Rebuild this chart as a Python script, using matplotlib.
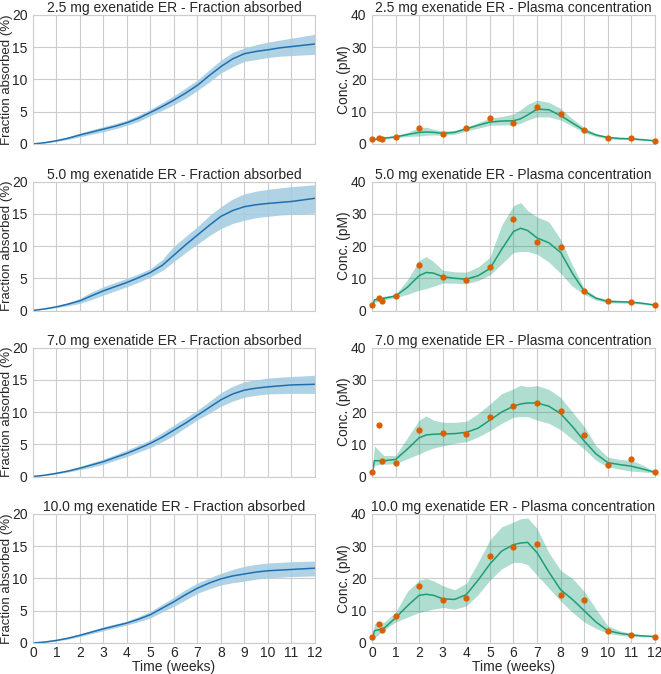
import matplotlib
matplotlib.use("Agg")
import matplotlib.pyplot as plt
import seaborn as sns
import numpy as np

sns.set_style("whitegrid")
plt.rcParams['font.family'] = ['Liberation Sans', 'DejaVu Sans']

doses = ["2.5", "5.0", "7.0", "10.0"]

# fraction absorbed (%), median and band
t_fa = np.arange(0, 12.01, 0.5)
fa_med = {
    "2.5": [0, 0.2, 0.5, 0.9, 1.4, 1.85, 2.3, 2.75, 3.3, 4.0, 4.9, 5.8, 6.8, 7.9, 9.1, 10.6, 12.0, 13.2, 14.0, 14.35, 14.6, 14.9, 15.1, 15.3, 15.5],
    "5.0": [0, 0.25, 0.57, 1.0, 1.5, 2.3, 3.06, 3.7, 4.35, 5.1, 5.9, 7.0, 8.6, 10.2, 11.7, 13.2, 14.6, 15.5, 16.1, 16.4, 16.6, 16.75, 16.9, 17.15, 17.4],
    "7.0": [0, 0.2, 0.5, 0.85, 1.3, 1.8, 2.3, 2.95, 3.6, 4.35, 5.15, 6.1, 7.2, 8.3, 9.5, 10.7, 11.9, 12.8, 13.4, 13.7, 13.9, 14.05, 14.2, 14.25, 14.3],
    "10.0": [0, 0.15, 0.4, 0.75, 1.2, 1.7, 2.2, 2.65, 3.1, 3.7, 4.4, 5.4, 6.4, 7.5, 8.5, 9.3, 9.95, 10.4, 10.7, 11.0, 11.2, 11.3, 11.4, 11.5, 11.6],
}
fa_lo = {
    "2.5": [0, 0.15, 0.4, 0.7, 1.1, 1.5, 1.9, 2.35, 2.9, 3.5, 4.4, 5.2, 6.1, 7.1, 8.3, 9.6, 11.0, 12.0, 12.8, 13.1, 13.4, 13.6, 13.7, 13.8, 13.9],
    "5.0": [0, 0.2, 0.45, 0.75, 1.1, 1.7, 2.4, 3.05, 3.7, 4.4, 5.2, 6.2, 7.6, 9.0, 10.3, 11.6, 12.7, 13.5, 14.0, 14.4, 14.6, 14.8, 14.9, 15.0, 15.1],
    "7.0": [0, 0.15, 0.4, 0.7, 1.05, 1.45, 1.9, 2.5, 3.1, 3.8, 4.5, 5.4, 6.4, 7.6, 8.8, 9.8, 10.9, 11.7, 12.3, 12.6, 12.8, 12.85, 12.9, 12.9, 12.9],
    "10.0": [0, 0.1, 0.3, 0.6, 1.0, 1.45, 1.9, 2.35, 2.8, 3.3, 3.9, 4.8, 5.7, 6.7, 7.7, 8.4, 9.0, 9.35, 9.6, 9.9, 10.1, 10.2, 10.3, 10.35, 10.4],
}
fa_hi = {
    "2.5": [0, 0.25, 0.6, 1.1, 1.7, 2.2, 2.7, 3.15, 3.7, 4.5, 5.4, 6.4, 7.5, 8.7, 9.9, 11.5, 13.0, 14.2, 14.9, 15.4, 15.8, 16.1, 16.4, 16.7, 17.0],
    "5.0": [0, 0.3, 0.7, 1.25, 1.9, 2.9, 3.7, 4.35, 5.0, 5.7, 6.5, 7.9, 10.0, 11.5, 13.0, 14.7, 16.1, 17.3, 18.1, 18.5, 18.8, 19.0, 19.2, 19.35, 19.5],
    "7.0": [0, 0.25, 0.6, 1.0, 1.55, 2.15, 2.7, 3.4, 4.1, 4.9, 5.7, 6.8, 8.0, 9.1, 10.3, 11.6, 13.0, 14.0, 14.7, 15.0, 15.25, 15.4, 15.5, 15.6, 15.7],
    "10.0": [0, 0.2, 0.5, 0.9, 1.4, 1.95, 2.5, 2.95, 3.4, 4.1, 4.9, 6.0, 7.1, 8.3, 9.3, 10.1, 10.8, 11.4, 11.9, 12.2, 12.4, 12.5, 12.6, 12.65, 12.7],
}

# plasma concentration (pM), median and band
t_pc = [0, 0.1, 0.5, 1, 1.5, 2, 2.3, 2.6, 3, 3.5, 4, 4.5, 5, 5.5, 6, 6.3, 6.6, 7, 7.5, 8, 8.5, 9, 9.5, 10, 10.5, 11, 11.5, 12]
pc_med = {
    "2.5": [0.5, 1.4, 1.8, 2.2, 2.9, 3.6, 3.7, 3.6, 3.3, 3.6, 4.7, 5.8, 6.8, 7.1, 7.2, 7.8, 9.0, 10.8, 10.6, 8.8, 6.5, 4.2, 2.8, 2.0, 1.7, 1.6, 1.3, 1.0],
    "5.0": [0.3, 3.3, 3.8, 4.5, 7.2, 10.8, 11.8, 11.6, 10.5, 10.0, 9.7, 10.8, 13.0, 19.0, 24.5, 25.5, 24.8, 22.5, 21.0, 18.0, 11.5, 6.0, 3.8, 2.8, 2.7, 2.6, 2.2, 1.7],
    "7.0": [0.3, 4.9, 4.9, 5.3, 8.5, 12.0, 12.9, 13.1, 13.2, 13.3, 13.7, 15.0, 17.5, 20.0, 21.8, 22.5, 22.8, 22.8, 21.8, 19.5, 15.5, 11.0, 7.0, 4.3, 3.7, 3.2, 2.3, 1.3],
    "10.0": [0.5, 3.8, 4.5, 7.8, 11.5, 14.8, 15.1, 14.8, 13.7, 13.5, 15.0, 19.5, 24.5, 28.5, 30.5, 31.0, 31.2, 28.0, 22.0, 16.5, 13.5, 10.0, 6.5, 3.8, 3.0, 2.5, 2.2, 2.0],
}
pc_lo = {
    "2.5": [0.4, 1.2, 1.5, 1.9, 2.3, 2.5, 2.7, 2.8, 2.7, 3.0, 4.0, 4.9, 5.8, 5.9, 5.9, 6.4, 7.4, 8.4, 8.4, 7.4, 5.5, 3.5, 2.3, 1.6, 1.4, 1.3, 1.1, 0.9],
    "5.0": [0.2, 2.5, 3.3, 4.0, 5.0, 6.3, 6.8, 7.5, 8.5, 8.5, 8.3, 9.3, 11.0, 14.5, 18.0, 18.3, 18.3, 17.5, 15.0, 11.5, 7.5, 5.0, 3.2, 2.4, 2.3, 2.2, 1.9, 1.5],
    "7.0": [0.2, 3.5, 3.8, 4.0, 5.5, 7.0, 8.0, 8.8, 9.5, 10.3, 10.8, 12.3, 14.2, 16.5, 18.4, 18.6, 18.6, 17.5, 16.5, 14.5, 11.5, 8.5, 5.0, 3.0, 2.3, 1.7, 1.4, 1.1],
    "10.0": [0.4, 1.6, 4.0, 6.5, 8.0, 9.5, 10.0, 10.5, 11.0, 10.5, 11.5, 15.0, 19.5, 23.0, 25.0, 25.0, 24.3, 21.0, 17.0, 13.0, 9.5, 6.5, 4.5, 3.0, 2.4, 2.0, 1.9, 1.8],
}
pc_hi = {
    "2.5": [0.6, 1.7, 2.1, 2.6, 3.6, 5.0, 5.2, 4.6, 4.0, 4.2, 5.3, 6.6, 8.0, 8.5, 9.3, 10.6, 12.3, 13.6, 12.9, 11.0, 7.8, 5.0, 3.2, 2.4, 2.1, 1.9, 1.6, 1.1],
    "5.0": [0.4, 3.8, 4.4, 5.0, 9.5, 15.5, 16.7, 15.2, 12.5, 12.0, 11.9, 13.5, 16.5, 26.5, 32.5, 33.5, 31.0, 29.0, 27.5, 22.0, 14.0, 6.8, 4.3, 3.4, 3.2, 3.0, 2.5, 1.9],
    "7.0": [0.4, 9.5, 6.5, 6.5, 12.0, 17.5, 18.8, 17.5, 16.8, 16.8, 17.1, 19.5, 22.5, 25.7, 27.2, 28.3, 27.8, 28.2, 27.0, 24.5, 20.0, 15.5, 9.5, 6.0, 5.3, 5.0, 3.5, 1.5],
    "10.0": [0.6, 6.0, 6.4, 9.5, 16.0, 19.5, 20.0, 19.3, 17.8, 16.5, 18.5, 25.0, 32.0, 36.0, 37.5, 38.5, 38.8, 35.5, 28.0, 22.5, 20.0, 16.0, 10.5, 5.3, 3.8, 2.9, 2.4, 2.1],
}

# observed concentrations
t_obs = [0, 0.29, 0.43, 1, 2, 3, 4, 5, 6, 7, 8, 9, 10, 11, 12]
obs = {
    "2.5": [1.4, 1.75, 1.55, 2.3, 4.9, 3.1, 4.9, 8.0, 6.4, 11.6, 9.3, 4.4, 1.75, 1.9, 0.8],
    "5.0": [1.6, 3.8, 3.1, 4.5, 14.1, 10.4, 9.6, 13.6, 28.3, 21.1, 19.6, 5.9, 2.8, 2.7, 1.7],
    "7.0": [1.25, 15.9, 4.9, 4.1, 14.5, 13.5, 13.3, 18.3, 21.9, 22.9, 20.4, 13.0, 3.6, 5.4, 1.25],
    "10.0": [1.9, 6.0, 3.9, 8.3, 17.8, 13.4, 14.1, 26.9, 29.9, 30.8, 14.9, 13.2, 3.7, 2.5, 2.0],
}

blue = "#1f6fb0"
blue_band = "#a6cee3"
green = "#1b9e77"
orange = "#d95f02"

fig = plt.figure(figsize=(6.61, 6.74), dpi=100)
bottoms = [0.7864, 0.5393, 0.2930, 0.0460]
h = 0.1914

for i, d in enumerate(doses):
    axl = fig.add_axes([0.0499, bottoms[i], 0.4266, h])
    axr = fig.add_axes([0.5628, bottoms[i], 0.4281, h])

    axl.fill_between(t_fa, fa_lo[d], fa_hi[d], color=blue_band, alpha=0.9, lw=0)
    axl.plot(t_fa, fa_med[d], color=blue, lw=1.1)
    axl.set_ylim(0, 20)
    axl.set_yticks([0, 5, 10, 15, 20])
    axl.set_ylabel("Fraction absorbed (%)", fontsize=9.5)
    axl.set_title(d + " mg exenatide ER - Fraction absorbed", fontsize=10, pad=2)
    axl.yaxis.set_label_coords(-0.071, 0.5)

    axr.fill_between(t_pc, pc_lo[d], pc_hi[d], color=green, alpha=0.35, lw=0)
    axr.plot(t_pc, pc_med[d], color=green, lw=1.1)
    axr.plot(t_obs, obs[d], "o", color=orange, ms=4.5, mec="none", clip_on=False, zorder=5)
    axr.set_ylim(0, 40)
    axr.set_yticks([0, 10, 20, 30, 40])
    axr.set_ylabel("Conc. (pM)", fontsize=10)
    axr.set_title(d + " mg exenatide ER - Plasma concentration", fontsize=10, pad=2)
    axr.yaxis.set_label_coords(-0.076, 0.5)

    for ax in (axl, axr):
        ax.set_xlim(0, 12)
        ax.set_xticks(range(13))
        ax.tick_params(axis="y", labelsize=10, pad=0.5)
        ax.tick_params(axis="x", labelsize=10, length=0, pad=2.5)
        if i < 3:
            ax.set_xticklabels([])
        else:
            ax.set_xlabel("Time (weeks)", fontsize=10, labelpad=0)

fig.savefig("out.png", dpi=100)
